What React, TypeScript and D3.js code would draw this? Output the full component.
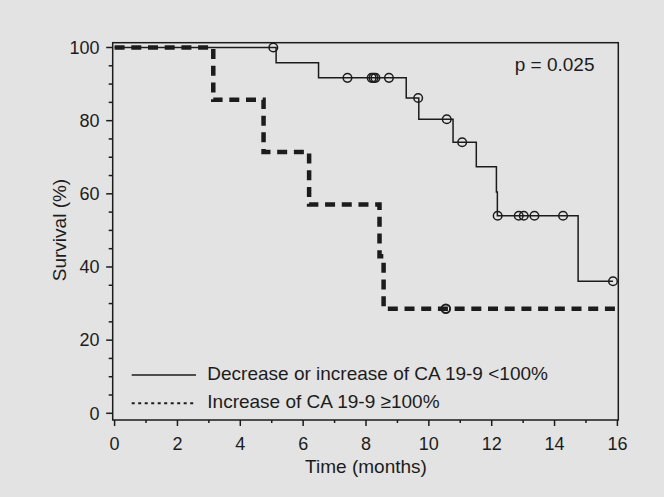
import React from "react";
import * as d3 from "d3";

const yTickLabels = [0, 20, 40, 60, 80, 100];
const yMinorTicks = [0, 5, 10, 15, 20, 25, 30, 35, 40, 45, 50, 55, 60, 65, 70, 75, 80, 85, 90, 95, 100];
const xTickLabels = [0, 2, 4, 6, 8, 10, 12, 14, 16];
const xMinorTicks = [0, 1, 2, 3, 4, 5, 6, 7, 8, 9, 10, 11, 12, 13, 14, 15, 16];

// Solid group: decrease or increase of CA 19-9 <100%
const solidStepTimes = [0, 5.14, 6.49, 9.28, 9.68, 10.77, 11.51, 12.15, 12.18, 14.75];
const solidLevels = [100, 95.8, 91.7, 86.2, 80.4, 74.1, 67.4, 60.5, 54.0, 36.1];
const solidEnd = 15.86;
const solidCensored = [5.05, 7.41, 8.18, 8.24, 8.3, 8.73, 9.66, 10.57, 11.06, 12.19, 12.86, 13.02, 13.36, 14.27, 15.86];

// Dashed group: increase of CA 19-9 >=100%
const dashStepTimes = [0, 3.14, 4.74, 6.19, 8.43, 8.56];
const dashLevels = [100, 85.7, 71.4, 57.1, 42.9, 28.6];
const dashEnd = 16;
const dashCensored = [10.54];

const legendLabels = ["Decrease or increase of CA 19-9 <100%", "Increase of CA 19-9 \u2265100%"];
const pValueLabel = "p = 0.025";

const FONT = "'Liberation Sans', Arial, Helvetica, sans-serif";
const INK = "#1c1c1c";

export default function App() {
  const W = 664;
  const H = 497;
  const x = d3.scaleLinear().domain([0, 16]).range([114.6, 617.4]);
  const y = d3.scaleLinear().domain([0, 100]).range([413.3, 47.5]);
  const frame = { left: 112.7, right: 618.3, top: 42.7, bottom: 420 };

  const line = d3
    .line<[number, number]>()
    .x((d) => x(d[0]))
    .y((d) => y(d[1]))
    .curve(d3.curveStepAfter);

  const solidPts: [number, number][] = solidStepTimes.map((t, i) => [t, solidLevels[i]]);
  solidPts.push([solidEnd, solidLevels[solidLevels.length - 1]]);
  const dashPts: [number, number][] = dashStepTimes.map((t, i) => [t, dashLevels[i]]);
  dashPts.push([dashEnd, dashLevels[dashLevels.length - 1]]);

  const levelAt = (times: number[], levels: number[], t: number) =>
    levels[Math.max(0, d3.bisectRight(times, t) - 1)];

  return (
    <svg
      width={W}
      height={H}
      style={{ position: "absolute", left: 0, top: 0, background: "#e3e3e3" }}
      fontFamily={FONT}
    >
      <rect x={0} y={0} width={W} height={H} fill="#e3e3e3" />
      {/* frame */}
      <rect
        x={frame.left}
        y={frame.top}
        width={frame.right - frame.left}
        height={frame.bottom - frame.top}
        fill="none"
        stroke={INK}
        strokeWidth={1.5}
      />
      {/* y ticks */}
      {yMinorTicks.map((v) => (
        <line
          key={"ym" + v}
          x1={frame.left}
          x2={frame.left - (v % 20 === 0 ? 6.5 : 4)}
          y1={y(v)}
          y2={y(v)}
          stroke={INK}
          strokeWidth={1.5}
        />
      ))}
      {yTickLabels.map((v) => (
        <text key={"yl" + v} x={99.5} y={y(v) + 6.3} textAnchor="end" fontSize={18} fill={INK}>
          {v}
        </text>
      ))}
      {/* x ticks */}
      {xMinorTicks.map((v) => (
        <line
          key={"xm" + v}
          x1={x(v)}
          x2={x(v)}
          y1={frame.bottom}
          y2={frame.bottom + (v % 2 === 0 ? 6 : 3)}
          stroke={INK}
          strokeWidth={1.5}
        />
      ))}
      {xTickLabels.map((v) => (
        <text key={"xl" + v} x={x(v)} y={450} textAnchor="middle" fontSize={18} fill={INK}>
          {v}
        </text>
      ))}
      {/* axis titles */}
      <text x={366} y={472.7} textAnchor="middle" fontSize={19} fill={INK}>
        Time (months)
      </text>
      <text
        transform={`translate(65.5, ${230}) rotate(-90)`}
        textAnchor="middle"
        fontSize={19}
        fill={INK}
      >
        Survival (%)
      </text>
      {/* p value */}
      <text x={594.5} y={70.7} textAnchor="end" fontSize={19} fill={INK}>
        {pValueLabel}
      </text>
      {/* curves */}
      <path d={line(dashPts) || ""} fill="none" stroke={INK} strokeWidth={4.5} strokeDasharray="10,6.7" />
      <path d={line(solidPts) || ""} fill="none" stroke={INK} strokeWidth={1.5} />
      {solidCensored.map((t, i) => (
        <circle
          key={"sc" + i}
          cx={x(t)}
          cy={y(levelAt(solidStepTimes, solidLevels, t))}
          r={4.3}
          fill="none"
          stroke={INK}
          strokeWidth={1.5}
        />
      ))}
      {dashCensored.map((t, i) => (
        <circle
          key={"dc" + i}
          cx={x(t)}
          cy={y(levelAt(dashStepTimes, dashLevels, t))}
          r={4.3}
          fill="none"
          stroke={INK}
          strokeWidth={2}
        />
      ))}
      {/* legend */}
      <line x1={131.7} x2={196} y1={375} y2={375} stroke={INK} strokeWidth={1.5} />
      <text x={207.3} y={379.8} fontSize={19} fill={INK}>
        {legendLabels[0]}
      </text>
      <line x1={131.7} x2={196} y1={403.3} y2={403.3} stroke={INK} strokeWidth={2} strokeDasharray="3,3.5" />
      <text x={207.3} y={408.2} fontSize={19} fill={INK}>
        {legendLabels[1]}
      </text>
    </svg>
  );
}
